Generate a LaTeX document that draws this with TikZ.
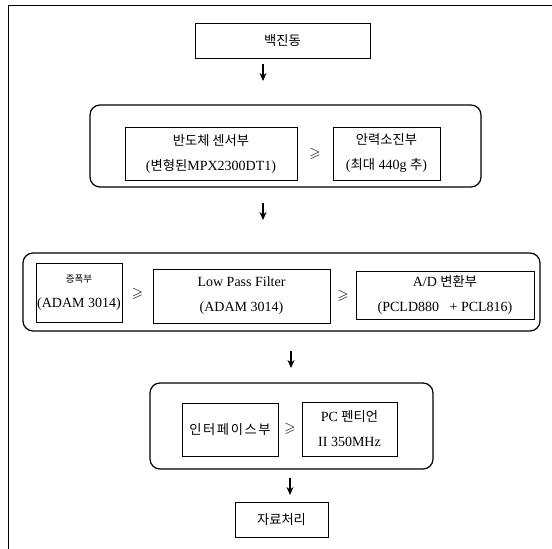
\documentclass[tikz,border=0pt]{standalone}
\usepackage{fontspec}
\usepackage{amssymb}
\setmainfont{Liberation Serif}
\newfontfamily\kr[Scale=0.95]{Noto Sans CJK KR}
\usetikzlibrary{arrows.meta}
\newcommand{\K}[1]{{\kr #1}}
\begin{document}
\begin{tikzpicture}[x=1pt,y=-1pt,
  box/.style={draw, line width=0.8pt, inner sep=0pt, align=center,
    font=\fontsize{14}{25}\selectfont},
  grp/.style={draw, line width=1.2pt, rounded corners=10pt, inner sep=0pt},
  arr/.style={line width=1.4pt, -{Stealth[length=8pt,width=7pt]}},
  gt/.style={inner sep=0pt, font=\Large}]
\useasboundingbox (0,0) rectangle (552,549);
% outer frame (top and left)
\coordinate (f1) at (552,5);
\coordinate (f2) at (8,5);
\coordinate (f3) at (8,549);
\draw[line width=0.9pt] (f1) -- (f2) -- (f3);
% top
\node[box, minimum width=175pt, minimum height=35pt] (top) at (282.5,40.5) {\K{백진동}};
% group 1
\node[grp, minimum width=391pt, minimum height=82pt] (g1) at (285.5,146) {};
\node[box, minimum width=172pt, minimum height=53pt] (A) at (211,153.5)
  {\K{반도체 센서부}\\(\K{변형된}MPX2300DT1)};
\node[box, minimum width=107pt, minimum height=53pt] (B) at (386.5,153.5)
  {\K{안력소진부}\\(\K{최대} 440g \K{추})};
% group 2
\node[grp, minimum width=517pt, minimum height=78pt] (g2) at (281.5,292) {};
\node[box, minimum width=86pt, minimum height=59pt] (C) at (79,292.5)
  {{\kr\fontsize{10}{10}\selectfont 증폭부}\\(ADAM 3014)};
\node[box, minimum width=177pt, minimum height=54pt] (D) at (241.5,296)
  {Low Pass Filter\\(ADAM 3014)};
\node[box, minimum width=178pt, minimum height=48pt] (E) at (445,295)
  {A/D \K{변환부}\\(PCLD880\ \ \ + PCL816)};
% group 3
\node[grp, minimum width=283pt, minimum height=86pt] (g3) at (291.5,426) {};
\node[box, minimum width=96pt, minimum height=53pt] (F) at (230,429.5)
  {{\kr\addfontfeature{LetterSpace=12}인터페이스부}};
\node[box, minimum width=95pt, minimum height=54pt] (G) at (349.5,429)
  {PC \K{펜티언}\\II 350MHz};
% bottom
\node[box, minimum width=93pt, minimum height=35pt] (bot) at (281.5,519.5) {\K{자료처리}};
% in-group connectors
\path (A.east) -- (B.west) node[midway, gt] {$\geqslant$};
\path (C.east) -- (D.west) node[midway, gt] {$\geqslant$};
\path (D.east) -- (E.west) node[midway, gt] {$\geqslant$};
\path (F.east) -- (G.west) node[midway, gt] {$\geqslant$};
% arrows between stages
\coordinate (a1s) at (263,64);
\coordinate (a1e) at (263,81);
\coordinate (a2s) at (263,203);
\coordinate (a2e) at (263,220);
\coordinate (a3s) at (291,351);
\coordinate (a3e) at (291,368);
\coordinate (a4s) at (290,478);
\coordinate (a4e) at (290,495);
\draw[arr] (a1s) -- (a1e);
\draw[arr] (a2s) -- (a2e);
\draw[arr] (a3s) -- (a3e);
\draw[arr] (a4s) -- (a4e);
\end{tikzpicture}
\end{document}
